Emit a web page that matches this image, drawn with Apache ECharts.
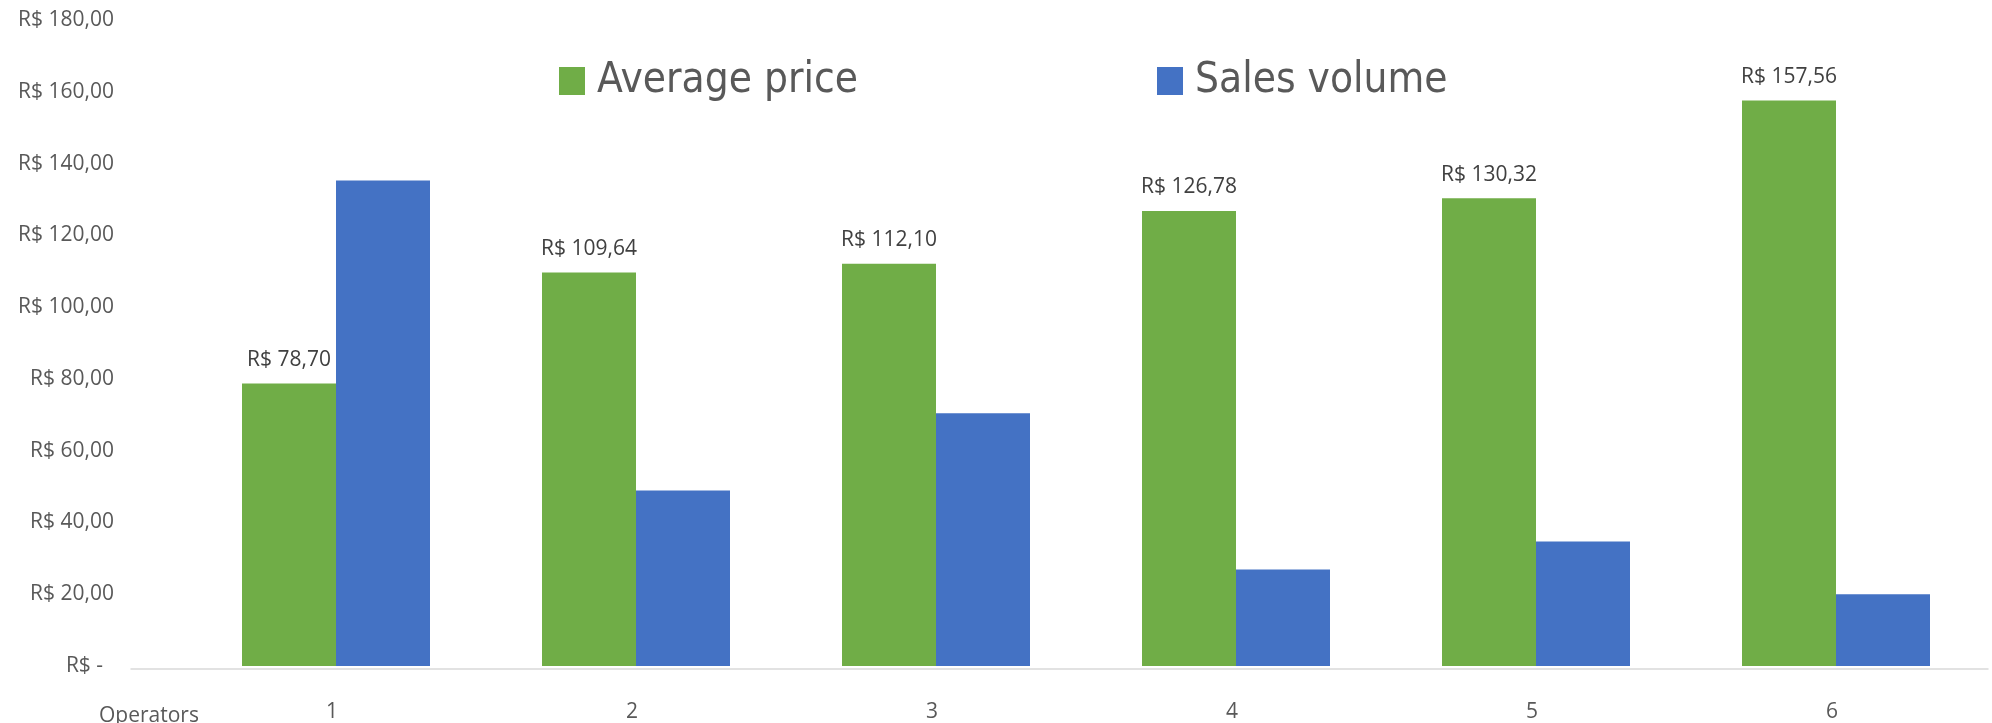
<!DOCTYPE html>
<html>
<head>
<meta charset="utf-8">
<script src="https://cdn.jsdelivr.net/npm/echarts@6/dist/echarts.min.js"></script>
<style>
  html, body { margin: 0; padding: 0; background: #fff; }
  #main { width: 1992px; height: 723px; }
</style>
</head>
<body>
<div id="main"></div>
<script>
// data
var operators = ['1', '2', '3', '4', '5', '6'];
var avgPrice = [78.70, 109.64, 112.10, 126.78, 130.32, 157.56];
var salesVolume = [135.3, 48.9, 70.4, 26.9, 34.7, 20.0];
var yTicks = [0, 20, 40, 60, 80, 100, 120, 140, 160, 180];

function brl(v) {
  if (v === 0) return 'R$ -  ';
  return 'R$ ' + v.toFixed(2).replace('.', ',');
}

var font = '"Open Sans", "Noto Sans", sans-serif';
var legendFont = '"Liberation Sans Narrow", "DejaVu Sans Condensed", sans-serif';

var chart = echarts.init(document.getElementById('main'));
var option = {
  animation: false,
  backgroundColor: '#ffffff',
  title: {
    text: 'Operators',
    left: 94,
    top: 701,
    textStyle: { fontFamily: font, fontSize: 21, fontWeight: 'normal', color: '#595959' }
  },
  legend: [
    {
      data: ['Average price'],
      left: 554, top: 55,
      itemWidth: 26, itemHeight: 28,
      icon: 'rect',
      textStyle: { fontFamily: legendFont, fontSize: 42, color: '#595959', padding: [0, 0, 0, 7] }
    },
    {
      data: ['Sales volume'],
      left: 1152, top: 55,
      itemWidth: 26, itemHeight: 28,
      icon: 'rect',
      textStyle: { fontFamily: legendFont, fontSize: 42, color: '#595959', padding: [0, 0, 0, 7] }
    }
  ],
  grid: [
    { left: 186, right: 6, top: 20, bottom: 54 },
    // only carries the long baseline that runs past the first category
    { left: 131, right: 4, top: 20, bottom: 54 }
  ],
  xAxis: [
    {
      type: 'category',
      gridIndex: 0,
      data: operators,
      axisLine: { show: false },
      axisTick: { show: false },
      axisLabel: { fontFamily: font, fontSize: 21, color: '#595959', margin: 36, padding: [0, 8, 0, 0] }
    },
    {
      type: 'value',
      gridIndex: 1,
      min: 0, max: 1,
      axisLine: { show: true, lineStyle: { color: '#d9d9d9', width: 1.5 } },
      axisTick: { show: false },
      axisLabel: { show: false },
      splitLine: { show: false }
    }
  ],
  yAxis: [
    {
      type: 'value',
      gridIndex: 0,
      min: yTicks[0],
      max: yTicks[yTicks.length - 1],
      interval: yTicks[1] - yTicks[0],
      axisLine: { show: false },
      axisTick: { show: false },
      splitLine: { show: false },
      axisLabel: {
        fontFamily: font, fontSize: 21, color: '#595959', margin: 72,
        formatter: function (v) { return brl(v); }
      }
    },
    {
      type: 'value',
      gridIndex: 1,
      show: false,
      min: 0, max: 1
    }
  ],
  series: [
    {
      name: 'Average price',
      type: 'bar',
      xAxisIndex: 0, yAxisIndex: 0,
      data: avgPrice,
      barWidth: 94,
      barGap: '0%',
      itemStyle: { color: '#70ad47' },
      label: {
        show: true,
        position: 'top',
        distance: 13,
        fontFamily: font,
        fontSize: 21,
        color: '#404040',
        formatter: function (p) { return brl(p.value); }
      },
      z: 3
    },
    {
      name: 'Sales volume',
      type: 'bar',
      xAxisIndex: 0, yAxisIndex: 0,
      data: salesVolume,
      barWidth: 94,
      barGap: '0%',
      itemStyle: { color: '#4472c4' },
      z: 3
    }
  ]
};
chart.setOption(option);
</script>
</body>
</html>
